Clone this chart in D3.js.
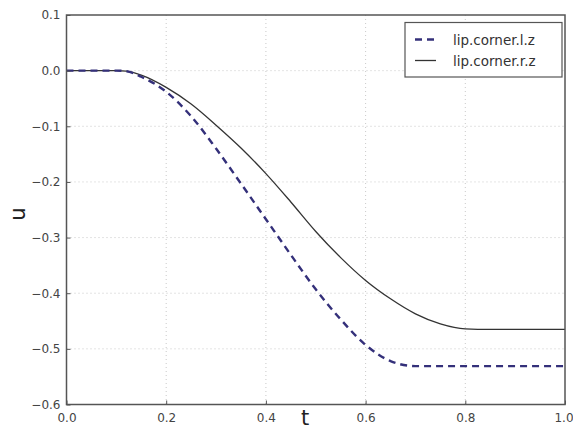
<!DOCTYPE html>
<html>
<head>
<meta charset="utf-8">
<script src="https://cdn.jsdelivr.net/npm/d3@7"></script>
<style>
  html, body { margin: 0; padding: 0; background: #fff; }
  svg { display: block; }
</style>
</head>
<body>
<svg id="chart" width="573" height="429"></svg>
<script>
// time samples and displacement of the two lip corners
const tValues = [0, 0.05, 0.10, 0.12, 0.15, 0.20, 0.25, 0.30, 0.35, 0.40, 0.45, 0.50, 0.55, 0.60, 0.65, 0.70, 0.75, 0.80, 0.85, 0.90, 0.95, 1.0];
const leftZ  = [0, 0, 0, -0.001, -0.011, -0.038, -0.082, -0.140, -0.203, -0.267, -0.331, -0.393, -0.447, -0.493, -0.522, -0.531, -0.531, -0.531, -0.531, -0.531, -0.531, -0.531];
const rightZ = [0, 0, 0, -0.001, -0.008, -0.030, -0.060, -0.098, -0.139, -0.185, -0.236, -0.289, -0.336, -0.377, -0.410, -0.437, -0.455, -0.464, -0.465, -0.465, -0.465, -0.465];
const seriesNames = ["lip.corner.l.z", "lip.corner.r.z"];
const xTicks = [0, 0.2, 0.4, 0.6, 0.8, 1.0];
const yTicks = [0.1, 0.0, -0.1, -0.2, -0.3, -0.4, -0.5, -0.6];

const svg = d3.select("#chart");
const plotLeft = 66.5, plotRight = 565, plotTop = 15, plotBottom = 404.5;

const x = d3.scaleLinear().domain([0, 1]).range([plotLeft, plotRight]);
const y = d3.scaleLinear().domain([-0.6, 0.1]).range([plotBottom, plotTop]);

const font = "'DejaVu Sans', sans-serif";

// dotted grid
const grid = svg.append("g");
grid.selectAll("line.gx").data(xTicks.slice(1, -1)).join("line")
  .attr("x1", d => x(d)).attr("x2", d => x(d))
  .attr("y1", plotTop).attr("y2", plotBottom)
  .attr("stroke", "#bbb").attr("stroke-width", 0.8).attr("stroke-dasharray", "1,3");
grid.selectAll("line.gy").data(yTicks.slice(1, -1)).join("line")
  .attr("x1", plotLeft).attr("x2", plotRight)
  .attr("y1", d => y(d)).attr("y2", d => y(d))
  .attr("stroke", "#bbb").attr("stroke-width", 0.8).attr("stroke-dasharray", "1,3");

// curves
const line = d3.line().x((d, i) => x(tValues[i])).y(d => y(d)).curve(d3.curveMonotoneX);

svg.append("path").datum(rightZ)
  .attr("d", line).attr("fill", "none")
  .attr("stroke", "#333").attr("stroke-width", 1.3);

svg.append("path").datum(leftZ)
  .attr("d", line).attr("fill", "none")
  .attr("stroke", "#34307a").attr("stroke-width", 2.4)
  .attr("stroke-dasharray", "7,5");

// axes with inward ticks
const xAxis = d3.axisBottom(x).tickValues(xTicks).tickFormat(d3.format(".1f")).tickSizeInner(-4).tickSizeOuter(0);
const yAxis = d3.axisLeft(y).tickValues(yTicks).tickFormat(d => d3.format(".1f")(d).replace("-", "\u2212")).tickSizeInner(-4).tickSizeOuter(0);

const gx = svg.append("g").attr("transform", `translate(0,${plotBottom})`).call(xAxis);
gx.select(".domain").remove();
gx.selectAll(".tick line").attr("stroke", "#555");
gx.selectAll(".tick text").attr("y", 9).attr("font-family", font).attr("font-size", 12).attr("fill", "#444");
// keep the last label inside the page edge
gx.selectAll(".tick text").filter(d => d === 1).attr("dx", -1.5);

const gy = svg.append("g").attr("transform", `translate(${plotLeft},0)`).call(yAxis);
gy.select(".domain").remove();
gy.selectAll(".tick line").attr("stroke", "#555");
gy.selectAll(".tick text").attr("x", -6).attr("font-family", font).attr("font-size", 12).attr("fill", "#444");

// frame
svg.append("rect")
  .attr("x", plotLeft).attr("y", plotTop).attr("width", plotRight - plotLeft).attr("height", plotBottom - plotTop)
  .attr("fill", "none").attr("stroke", "#555").attr("stroke-width", 1.5);

// axis labels
svg.append("text").text("t")
  .attr("x", 305).attr("y", 425).attr("text-anchor", "middle")
  .attr("font-family", font).attr("font-size", 21).attr("fill", "#222");
svg.append("text").text("u")
  .attr("transform", "translate(25,214) rotate(-90)").attr("text-anchor", "middle")
  .attr("font-family", font).attr("font-size", 21).attr("fill", "#222");

// legend
const lg = svg.append("g");
lg.append("rect").attr("x", 405).attr("y", 22.5).attr("width", 157).attr("height", 54.5)
  .attr("fill", "#fff").attr("stroke", "#555").attr("stroke-width", 1.2);
const rows = [
  { name: seriesNames[0], color: "#34307a", width: 2.4, dash: "7,5" },
  { name: seriesNames[1], color: "#333", width: 1.3, dash: null }
];
rows.forEach((r, i) => {
  const cy = 39.5 + i * 21;
  lg.append("line").attr("x1", 415).attr("x2", 436).attr("y1", cy).attr("y2", cy)
    .attr("stroke", r.color).attr("stroke-width", r.width)
    .attr("stroke-dasharray", r.dash);
  lg.append("text").text(r.name).attr("x", 453).attr("y", cy + 5)
    .attr("font-family", font).attr("font-size", 13.5).attr("fill", "#333");
});
</script>
</body>
</html>
